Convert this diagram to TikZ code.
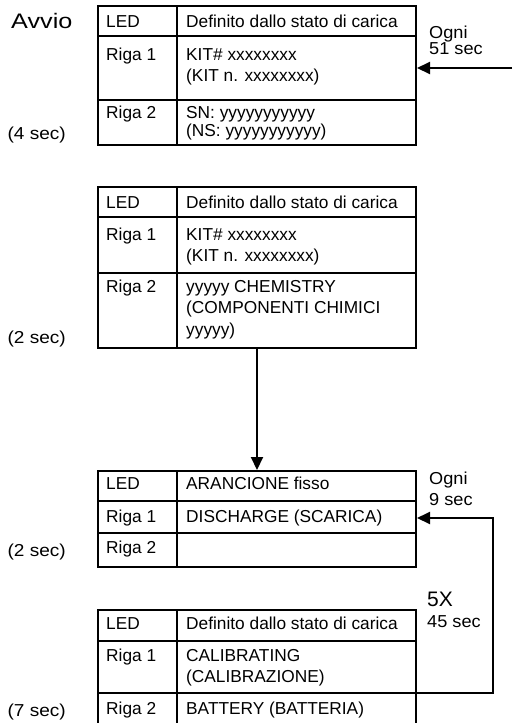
\documentclass[tikz,border=0pt]{standalone}
\usepackage{fontspec}
\setmainfont{Liberation Sans}
\usetikzlibrary{arrows.meta}
\begin{document}
\begin{tikzpicture}[x=1pt,y=-1pt,
  tbl/.style={draw,line width=2pt,inner sep=0pt,anchor=north west,minimum width=318pt},
  rule/.style={line width=2pt},
  cell/.style={anchor=base west,inner sep=0pt,font=\fontsize{17.3}{19}\selectfont},
  side/.style={anchor=base east,inner sep=0pt,font=\fontsize{17.3}{19}\selectfont},
  note/.style={anchor=base west,inner sep=0pt,font=\fontsize{17.3}{19}\selectfont},
  big/.style={anchor=base west,inner sep=0pt,font=\fontsize{21}{24}\selectfont},
  conn/.style={line width=2pt,-{Triangle[length=13pt,width=12pt]}}]
\useasboundingbox (0,0) rectangle (512,723);

% ---------- table 1 ----------
\node[tbl,minimum height=139pt] (t1) at (97,5) {};
\draw[rule] (97,36) -- (415,36) (97,100) -- (415,100) (177,5) -- (177,144);
\node[cell] (t1a) at (106,27) {LED};
\node[cell] (t1b) at (186,27) {Definito dallo stato di carica};
\node[cell] (t1c) at (106,60) {Riga 1};
\node[cell] (t1d) at (186,60) {KIT\# xxxxxxxx};
\node[cell] (t1e) at (186,81) {(KIT n. xxxxxxxx)};
\node[cell] (t1f) at (106,118) {Riga 2};
\node[cell] (t1g) at (186,118) {SN: yyyyyyyyyyy};
\node[cell] (t1h) at (186,136) {(NS: yyyyyyyyyyy)};

\node[big] (avvio) at (11,28) {\scalebox{1.2}[1]{Avvio}};
\node[side] (s1) at (66,139) {\scalebox{1.1}[1]{(4 sec)}};
\node[note] (o1) at (429,38) {\scalebox{1.05}[1]{Ogni}};
\node[note] (o2) at (429,54) {\scalebox{1.05}[1]{51 sec}};

% ---------- table 2 ----------
\node[tbl,minimum height=161pt] (t2) at (97,186) {};
\draw[rule] (97,217) -- (415,217) (97,273) -- (415,273) (177,186) -- (177,347);
\node[cell] (t2a) at (106,208) {LED};
\node[cell] (t2b) at (186,208) {Definito dallo stato di carica};
\node[cell] (t2c) at (106,240) {Riga 1};
\node[cell] (t2d) at (186,240) {KIT\# xxxxxxxx};
\node[cell] (t2e) at (186,261) {(KIT n. xxxxxxxx)};
\node[cell] (t2f) at (106,292) {Riga 2};
\node[cell] (t2g) at (186,292) {yyyyy CHEMISTRY};
\node[cell] (t2h) at (186,313) {(COMPONENTI CHIMICI};
\node[cell] (t2i) at (186,335) {yyyyy)};
\node[side] (s2) at (66,343) {\scalebox{1.1}[1]{(2 sec)}};

% ---------- table 3 ----------
\node[tbl,minimum height=96pt] (t3) at (97,470) {};
\draw[rule] (97,501) -- (415,501) (97,533) -- (415,533) (177,470) -- (177,566);
\node[cell] (t3a) at (106,489) {LED};
\node[cell] (t3b) at (186,489) {ARANCIONE fisso};
\node[cell] (t3c) at (106,522) {Riga 1};
\node[cell] (t3d) at (186,522) {DISCHARGE (SCARICA)};
\node[cell] (t3f) at (106,553) {Riga 2};
\node[side] (s3) at (66,556) {\scalebox{1.1}[1]{(2 sec)}};
\node[note] (o3) at (429,484) {\scalebox{1.05}[1]{Ogni}};
\node[note] (o4) at (429,505) {\scalebox{1.05}[1]{9 sec}};

% ---------- table 4 ----------
\node[tbl,minimum height=116pt] (t4) at (97,609) {};
\draw[rule] (97,641) -- (415,641) (97,693) -- (415,693) (177,609) -- (177,725);
\node[cell] (t4a) at (106,629) {LED};
\node[cell] (t4b) at (186,629) {Definito dallo stato di carica};
\node[cell] (t4c) at (106,661) {Riga 1};
\node[cell] (t4d) at (186,661) {CALIBRATING};
\node[cell] (t4e) at (186,682) {(CALIBRAZIONE)};
\node[cell] (t4f) at (106,714) {Riga 2};
\node[cell] (t4g) at (186,714) {BATTERY (BATTERIA)};
\node[side] (s4) at (66,716) {\scalebox{1.1}[1]{(7 sec)}};
\node[big] (fx) at (427,606) {5X};
\node[note] (o5) at (427,627) {\scalebox{1.05}[1]{45 sec}};

% ---------- connectors ----------
\coordinate (in1) at (512,68);
\draw[conn] (in1) -- (in1 -| t1.east);
\draw[conn] (t2.south) -- (t3.north);
\coordinate (lpb) at (493,693);
\coordinate (lpt) at (493,518);
\draw[conn] (lpb -| t4.east) -- (lpb) -- (lpt) -- (lpt -| t3.east);
\end{tikzpicture}
\end{document}
